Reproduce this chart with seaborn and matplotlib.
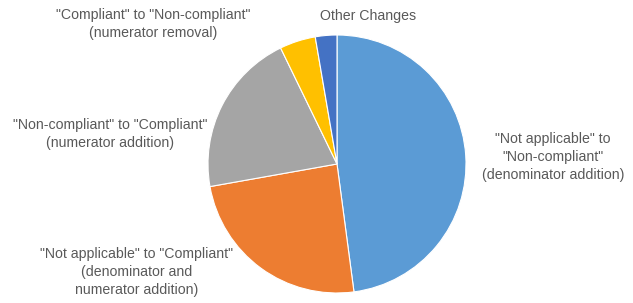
import matplotlib
matplotlib.use("Agg")
import matplotlib.pyplot as plt
import seaborn as sns

labels = [
    '"Not applicable" to\n"Non-compliant"\n(denominator addition)',
    '"Not applicable" to "Compliant"\n(denominator and\nnumerator addition)',
    '"Non-compliant" to "Compliant"\n(numerator addition)',
    '"Compliant" to "Non-compliant"\n(numerator removal)',
    'Other Changes',
]
shares = [47.9, 24.3, 20.6, 4.5, 2.7]
colors = ["#5B9BD5", "#ED7D31", "#A5A5A5", "#FFC000", "#4472C4"]

# label centres in pixels (x, y from top)
label_px = [(553, 157), (137, 272), (110, 134), (153, 24), (368, 16)]

W, H = 633, 303
CX, CY, R = 337, 164, 129

sns.set_style("white")
plt.rcParams["font.family"] = ["Liberation Sans", "DejaVu Sans"]

fig = plt.figure(figsize=(W / 100, H / 100), dpi=100)
ax = fig.add_axes([(CX - R) / W, (H - CY - R) / H, 2 * R / W, 2 * R / H])
ax.pie(shares, colors=colors, startangle=90, counterclock=False,
       wedgeprops={"edgecolor": "white", "linewidth": 0.8})
ax.set_xlim(-1, 1)
ax.set_ylim(-1, 1)
ax.set_aspect("auto")
ax.axis("off")

for text, (px, py) in zip(labels, label_px):
    fig.text(px / W, 1 - py / H, text, ha="center", va="center",
             fontsize=10.2, color="#595959", linespacing=1.35)

fig.savefig("out.png", dpi=100)
